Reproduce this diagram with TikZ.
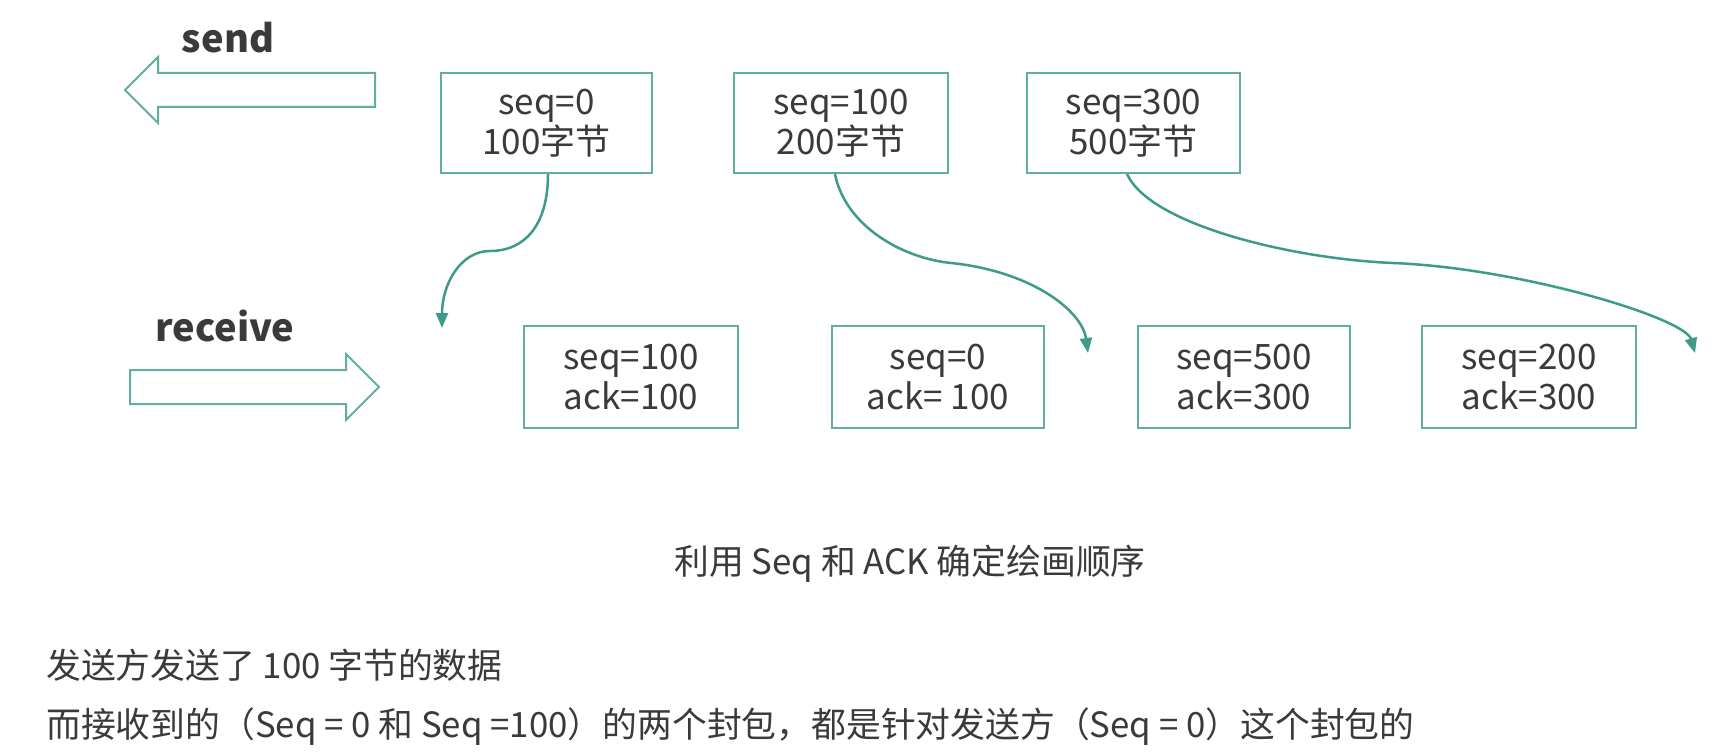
\documentclass[tikz,border=0pt]{standalone}
\usepackage{fontspec}
\setmainfont{Noto Sans CJK SC}
\usetikzlibrary{arrows.meta}
\definecolor{teal1}{HTML}{3E9B8A}
\definecolor{teal2}{HTML}{5FAE9F}
\definecolor{txt}{HTML}{3A3A3A}
\tikzset{
  pkt/.style={draw=teal2, line width=2pt, rectangle, minimum height=100pt,
    text=txt, align=center, font=\fontsize{35}{40}\selectfont, inner sep=0pt},
  conn/.style={draw=teal1, line width=2.5pt, -{Triangle[length=15pt,width=12pt]}},
  blockarrow/.style={draw=teal2, line width=2pt, fill=white, line join=miter},
  lbl/.style={text=txt, font=\fontsize{38}{46}\selectfont\bfseries, anchor=base, inner sep=0pt},
  note/.style={text=txt, font=\fontsize{34.8}{42}\selectfont, inner sep=0pt}
}
\begin{document}
\begin{tikzpicture}[x=1pt,y=-1pt]
\useasboundingbox[fill=white] (0,0) rectangle (1734,754);
% labels
\node[lbl] (send) at (228,53) {send};
\node[lbl] (recv) at (225,341) {receive};
% block arrows
\draw[blockarrow] (375,73) -- (158,73) -- (158,57) -- (125,90) -- (158,123) -- (158,107) -- (375,107) -- cycle;
\draw[blockarrow] (130,370) -- (346,370) -- (346,354) -- (379,387) -- (346,420) -- (346,404) -- (130,404) -- cycle;
% sent packets
\node[pkt, minimum width=211pt] (s1) at (546.5,123) {seq=0\\100字节};
\node[pkt, minimum width=214pt] (s2) at (841,123) {seq=100\\200字节};
\node[pkt, minimum width=213pt] (s3) at (1133.5,123) {seq=300\\500字节};
% received packets
\node[pkt, minimum width=214pt, minimum height=102pt] (r1) at (631,377) {seq=100\\ack=100};
\node[pkt, minimum width=212pt, minimum height=102pt] (r2) at (938,377) {seq=0\\ack= 100};
\node[pkt, minimum width=212pt, minimum height=102pt] (r3) at (1244,377) {seq=500\\ack=300};
\node[pkt, minimum width=214pt, minimum height=102pt] (r4) at (1529,377) {seq=200\\ack=300};
% connector end points
\coordinate (t1) at (442,328);
\coordinate (t2) at (1088,353);
\coordinate (t3) at (1695,353);
\coordinate (m1) at (490,251);
\coordinate (m2) at (951,263);
\coordinate (m3) at (1393,263);
\draw[conn] ([xshift=1.5pt]s1.south) .. controls (548,225) and (525,251) .. (m1)
   .. controls (460,251) and (442,285) .. (t1);
\draw[conn] ([xshift=-6pt]s2.south) .. controls (845,225) and (901,258) .. (m2)
   .. controls (1030,271) and (1082,310) .. (t2);
\draw[conn] ([xshift=-6.5pt]s3.south) .. controls (1150,225) and (1293,259) .. (m3)
   .. controls (1520,268) and (1685,318) .. (t3);
% texts
\node[note] (cap) at (910,564) {利用 Seq 和 ACK 确定绘画顺序};
\node[note, anchor=west] (l1) at (46,665) {发送方发送了 100 字节的数据};
\node[note, anchor=west] (l2) at (46,727) {而接收到的（Seq = 0 和 Seq =100）的两个封包，都是针对发送方（Seq = 0）这个封包的};
\end{tikzpicture}
\end{document}
